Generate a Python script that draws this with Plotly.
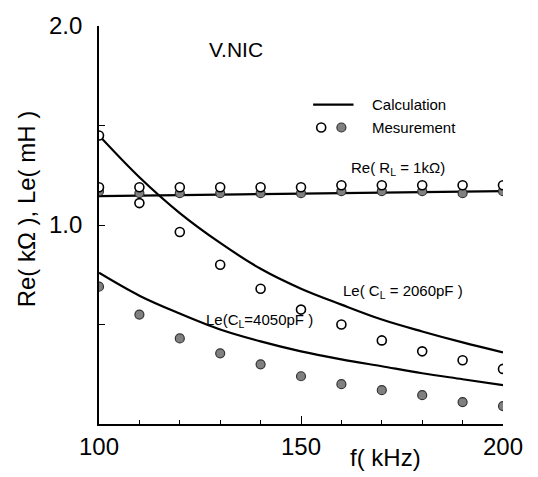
import plotly.graph_objects as go

freq = [100, 110, 120, 130, 140, 150, 160, 170, 180, 190, 200]

# Calculation curves
re_calc = [1.145, 1.148, 1.150, 1.153, 1.155, 1.158, 1.160, 1.163, 1.165, 1.168, 1.170]
le2060_calc = [1.45, 1.24, 1.06, 0.91, 0.78, 0.68, 0.60, 0.525, 0.465, 0.41, 0.36]
le4050_calc = [0.76, 0.645, 0.555, 0.475, 0.415, 0.365, 0.325, 0.29, 0.255, 0.225, 0.195]

# Measurements
re_open = [1.19, 1.19, 1.19, 1.19, 1.19, 1.19, 1.20, 1.20, 1.20, 1.20, 1.20]
re_fill = [1.17, 1.16, 1.16, 1.16, 1.16, 1.16, 1.17, 1.17, 1.17, 1.16, 1.17]
le2060_meas = [1.45, 1.11, 0.965, 0.80, 0.68, 0.575, 0.50, 0.42, 0.365, 0.32, 0.277]
le4050_meas = [0.69, 0.55, 0.43, 0.355, 0.30, 0.24, 0.20, 0.17, 0.145, 0.11, 0.09]

# Legend sample positions (data coordinates)
legend_line_x = [153, 163]
legend_line_y = [1.605, 1.605]
legend_open_xy = (155, 1.49)
legend_fill_xy = (160, 1.49)

x_tickvals = [100, 150, 200]
x_ticktext = ["100", "150", "200"]
y_tickvals = [0.5, 1.0, 1.5, 2.0]
y_ticktext = ["", "1.0", "", "2.0"]

FONT = "Liberation Sans"
line_style = dict(color="black", width=2.2, shape="spline")
open_marker = dict(symbol="circle", size=9, color="white", line=dict(color="black", width=1.6))
fill_marker = dict(symbol="circle", size=9, color="#808080", line=dict(color="#333333", width=1.2))

fig = go.Figure()
for ys in (re_calc, le2060_calc, le4050_calc):
    fig.add_trace(go.Scatter(x=freq, y=ys, mode="lines", line=line_style, showlegend=False))
fig.add_trace(go.Scatter(x=freq, y=re_fill, mode="markers", marker=fill_marker, showlegend=False))
fig.add_trace(go.Scatter(x=freq, y=re_open, mode="markers", marker=open_marker, showlegend=False))
fig.add_trace(go.Scatter(x=freq, y=le2060_meas, mode="markers", marker=open_marker, showlegend=False))
fig.add_trace(go.Scatter(x=freq, y=le4050_meas, mode="markers", marker=fill_marker, showlegend=False))

fig.add_trace(go.Scatter(x=legend_line_x, y=legend_line_y, mode="lines",
                         line=dict(color="black", width=2.2), showlegend=False))
fig.add_trace(go.Scatter(x=[legend_open_xy[0]], y=[legend_open_xy[1]], mode="markers",
                         marker=open_marker, showlegend=False))
fig.add_trace(go.Scatter(x=[legend_fill_xy[0]], y=[legend_fill_xy[1]], mode="markers",
                         marker=fill_marker, showlegend=False))

annotations = [
    dict(x=167, y=1.605, text="Calculation", xanchor="left", yanchor="middle", font=dict(size=15)),
    dict(x=167, y=1.49, text="Mesurement", xanchor="left", yanchor="middle", font=dict(size=15)),
    dict(x=134, y=1.88, text="V.NIC", xanchor="center", yanchor="middle", font=dict(size=21)),
    dict(x=174, y=1.285, text="Re( R<sub>L</sub> = 1kΩ)", xanchor="center", yanchor="middle", font=dict(size=15)),
    dict(x=160, y=0.665, text="Le( C<sub>L</sub> = 2060pF )", xanchor="left", yanchor="middle", font=dict(size=15)),
    dict(x=126, y=0.52, text="Le(C<sub>L</sub>=4050pF )", xanchor="left", yanchor="middle", font=dict(size=15)),
    dict(x=0.71, y=-0.085, xref="paper", yref="paper", text="f( kHz)", xanchor="center",
         yanchor="middle", font=dict(size=24)),
    dict(x=-0.18, y=0.54, xref="paper", yref="paper", text="Re( kΩ ), Le( mH )", textangle=-90,
         xanchor="center", yanchor="middle", font=dict(size=24)),
]
for a in annotations:
    a["showarrow"] = False

fig.update_layout(
    width=538, height=477,
    margin=dict(l=99, r=35, t=20, b=53),
    paper_bgcolor="white", plot_bgcolor="white",
    font=dict(family=FONT, color="black"),
    annotations=annotations,
    xaxis=dict(range=[100, 200], showgrid=False, zeroline=False, showline=True, linecolor="black",
               linewidth=1.6, ticks="inside", ticklen=8, tickwidth=1.4, tickcolor="black",
               tickvals=x_tickvals, ticktext=x_ticktext, tickfont=dict(size=24),
               minor=dict(dtick=10, tick0=100, ticks="inside", ticklen=4, tickwidth=1.2, tickcolor="black")),
    yaxis=dict(range=[0, 2.0], showgrid=False, zeroline=False, showline=True, linecolor="black",
               linewidth=1.6, ticks="inside", ticklen=6, tickwidth=1.4, tickcolor="black",
               tickvals=y_tickvals, ticktext=y_ticktext, tickfont=dict(size=24),
               ticklabelstandoff=10),
)

fig.write_html("out.html", config={"displayModeBar": False},
               post_script="document.body.style.margin='0';document.body.style.overflow='hidden';")
